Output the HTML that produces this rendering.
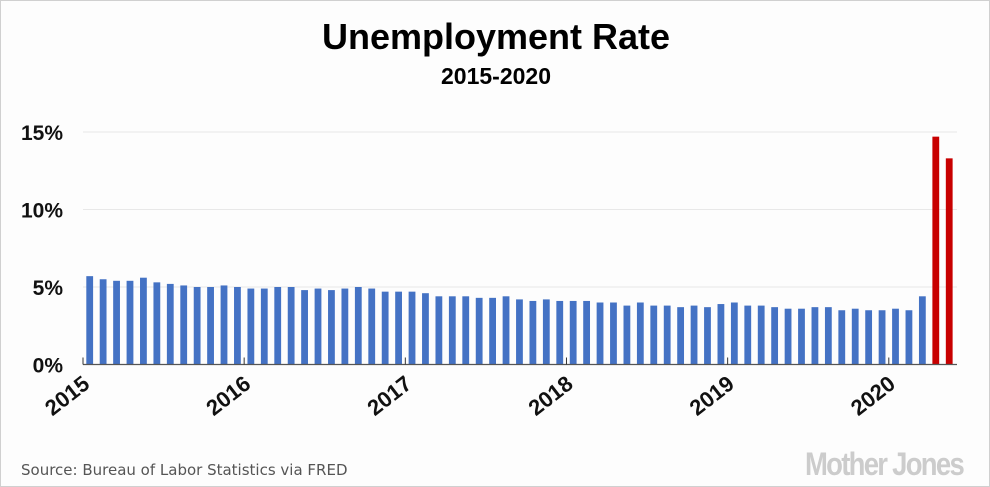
<!DOCTYPE html>
<html><head><meta charset="utf-8"><style>
html,body{margin:0;padding:0;background:#fff}
#wrap{width:988px;height:485px;border:1px solid #d0d0d0;background:#fdfdfd;position:relative;overflow:hidden}
svg{position:absolute;left:0;top:0}
</style></head><body>
<div id="wrap">
<svg id="chart" width="990" height="487">
<text x="495" y="48" text-anchor="middle" font-family="Liberation Sans, sans-serif" font-weight="bold" font-size="36" fill="#000">Unemployment Rate</text>
<text x="495" y="83" text-anchor="middle" font-family="Liberation Sans, sans-serif" font-weight="bold" font-size="23" fill="#000">2015-2020</text>
<text x="20" y="474" font-family="DejaVu Sans, sans-serif" font-size="15" fill="#555">Source: Bureau of Labor Statistics via FRED</text>
<text x="962" y="474" text-anchor="end" font-family="Liberation Sans Narrow, Liberation Sans, sans-serif" font-weight="bold" font-size="32" fill="#ccc" letter-spacing="-2" textLength="158" lengthAdjust="spacingAndGlyphs">Mother Jones</text>
</svg>
</div>
<script>
const values=[5.7,5.5,5.4,5.4,5.6,5.3,5.2,5.1,5.0,5.0,5.1,5.0,
4.9,4.9,5.0,5.0,4.8,4.9,4.8,4.9,5.0,4.9,4.7,4.7,
4.7,4.6,4.4,4.4,4.4,4.3,4.3,4.4,4.2,4.1,4.2,4.1,
4.1,4.1,4.0,4.0,3.8,4.0,3.8,3.8,3.7,3.8,3.7,3.9,
4.0,3.8,3.8,3.7,3.6,3.6,3.7,3.7,3.5,3.6,3.5,3.5,
3.6,3.5,4.4,14.7,13.3];
const yTicks=[0,5,10,15];
const yearLabels=["2015","2016","2017","2018","2019","2020"];
const highlightFrom=63;
const svg=document.getElementById('chart');
const NS='http://www.w3.org/2000/svg';
const x0=82,slot=13.43,yBase=363.5,yTop=131,yMax=15;
const X=i=>x0+i*slot;
const Y=v=>yBase-(v/yMax)*(yBase-yTop);
function mk(t,a){const e=document.createElementNS(NS,t);for(const k in a)e.setAttribute(k,a[k]);svg.appendChild(e);return e;}
yTicks.forEach(t=>{
  if(t>0){const g=mk('line',{x1:x0,x2:956,y1:Y(t),y2:Y(t),stroke:'#e8e8e8','stroke-width':1});
  
  }
  const l=mk('text',{x:62,y:Y(t)+8,'text-anchor':'end','font-family':'Liberation Sans, sans-serif','font-weight':'bold','font-size':21,fill:'#111'});
  l.textContent=t+'%';
  
  
});
values.forEach((v,i)=>{
  const b=mk('rect',{x:X(i)+3.3,width:6.8,y:Y(v),height:yBase-Y(v),fill:i>=highlightFrom?'#c80000':'#4472c4'});
  
  
});
const ax=mk('line',{x1:x0,x2:956,y1:yBase,y2:yBase,stroke:'#555','stroke-width':1.2});


yearLabels.forEach((y,k)=>{
  const tx=X(k*12);
  const tk=mk('line',{x1:tx,x2:tx,y1:yBase-7,y2:yBase,stroke:'#333','stroke-width':1});
  
  
  const lx=tx+8,ly=yBase+22;
  const l=mk('text',{x:lx,y:ly,'text-anchor':'end','font-family':'Liberation Sans, sans-serif','font-weight':'bold','font-size':22,fill:'#111',transform:`rotate(-38 ${lx} ${ly})`});
  l.textContent=y;
  
  
});
</script>
</body></html>
